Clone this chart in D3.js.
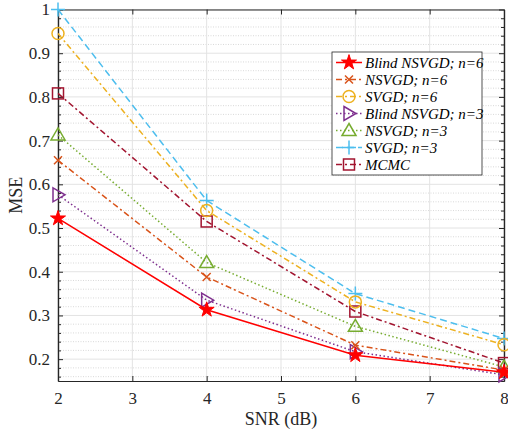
<!DOCTYPE html>
<html>
<head>
<meta charset="utf-8">
<title>MSE vs SNR</title>
<script src="https://cdn.jsdelivr.net/npm/d3@7/dist/d3.min.js"></script>
<style>
  body { margin:0; background:#fff; }
  svg text { font-family:"Liberation Serif","Times New Roman",Times,serif !important; }
</style>
</head>
<body>
<script>
// data
var snr = [2, 4, 6, 8];
var blindN6 = [0.522, 0.313, 0.209, 0.170];
var nsvgdN6 = [0.655, 0.388, 0.232, 0.175];
var svgdN6  = [0.945, 0.540, 0.331, 0.233];
var blindN3 = [0.576, 0.335, 0.217, 0.164];
var nsvgdN3 = [0.713, 0.421, 0.275, 0.182];
var svgdN3  = [1.000, 0.563, 0.350, 0.247];
var mcmc    = [0.808, 0.515, 0.309, 0.191];
var xTicks = [2, 3, 4, 5, 6, 7, 8];
var yTicks = [0.2, 0.3, 0.4, 0.5, 0.6, 0.7, 0.8, 0.9, 1];

var series = [
  {name:"Blind NSVGD; n=6", v:blindN6, color:"#ff0000", dash:null,        mark:"star"},
  {name:"NSVGD; n=6",       v:nsvgdN6, color:"#d95319", dash:"6,3,2,3",   mark:"x"},
  {name:"SVGD; n=6",        v:svgdN6,  color:"#edb120", dash:"6,3,2,3",   mark:"circle"},
  {name:"Blind NSVGD; n=3", v:blindN3, color:"#7e2f8e", dash:"1.5,2.5",   mark:"tri-right"},
  {name:"NSVGD; n=3",       v:nsvgdN3, color:"#77ac30", dash:"1.5,2.5",   mark:"tri-up"},
  {name:"SVGD; n=3",        v:svgdN3,  color:"#4dbeee", dash:"7,4",       mark:"plus"},
  {name:"MCMC",             v:mcmc,    color:"#a2142f", dash:"6,3,2,3",   mark:"square"}
];

var W = 508, H = 434;
var pL = 58, pR = 504, pT = 9.5, pB = 381;

var svg = d3.select("body").append("svg").attr("width", W).attr("height", H)
  .style("display", "block");

var x = d3.scaleLinear().domain([2, 8]).range([pL, pR]);
var y = d3.scaleLinear().domain([0.15, 1]).range([pB, pT]);

// grid
var minor = d3.range(0.16, 1.0001, 0.02).filter(function(d){ return Math.abs(d*10 - Math.round(d*10)) > 0.01; });
svg.append("g").selectAll("line").data(minor).enter().append("line")
  .attr("x1", pL).attr("x2", pR)
  .attr("y1", function(d){ return y(d); }).attr("y2", function(d){ return y(d); })
  .attr("stroke", "#cfcfcf").attr("stroke-width", 0.8).attr("stroke-dasharray", "1,1.5");
svg.append("g").selectAll("line").data(yTicks).enter().append("line")
  .attr("x1", pL).attr("x2", pR)
  .attr("y1", function(d){ return y(d); }).attr("y2", function(d){ return y(d); })
  .attr("stroke", "#e3e3e3").attr("stroke-width", 1);
svg.append("g").selectAll("line").data(xTicks).enter().append("line")
  .attr("y1", pT).attr("y2", pB)
  .attr("x1", function(d){ return x(d); }).attr("x2", function(d){ return x(d); })
  .attr("stroke", "#e3e3e3").attr("stroke-width", 1);

// axes (ticks inward, box)
var axCol = "#262626";
svg.append("g").attr("transform", "translate(0," + pB + ")")
  .call(d3.axisBottom(x).tickValues(xTicks).tickSizeInner(-5).tickSizeOuter(0).tickPadding(11)
    .tickFormat(d3.format("d")));
svg.append("g").attr("transform", "translate(0," + pT + ")")
  .call(d3.axisTop(x).tickValues(xTicks).tickSizeInner(-5).tickSizeOuter(0).tickFormat(""));
svg.append("g").attr("transform", "translate(" + pL + ",0)")
  .call(d3.axisLeft(y).tickValues(yTicks).tickSizeInner(-5).tickSizeOuter(0).tickPadding(8)
    .tickFormat(function(d){ return d === 1 ? "1" : d3.format(".1f")(d); }));
svg.append("g").attr("transform", "translate(" + pR + ",0)")
  .call(d3.axisRight(y).tickValues(yTicks).tickSizeInner(-5).tickSizeOuter(0).tickFormat(""));
svg.append("g").attr("transform", "translate(" + pL + ",0)")
  .call(d3.axisLeft(y).tickValues(minor).tickSizeInner(-3).tickSizeOuter(0).tickFormat(""));
svg.append("g").attr("transform", "translate(" + pR + ",0)")
  .call(d3.axisRight(y).tickValues(minor).tickSizeInner(-3).tickSizeOuter(0).tickFormat(""));
svg.selectAll(".domain").attr("stroke", axCol).attr("stroke-width", 1.2);
svg.selectAll(".tick line").attr("stroke", axCol);
svg.selectAll(".tick text").attr("fill", axCol).attr("font-size", 17);

// axis labels
svg.append("text").attr("x", x(5)).attr("y", 425).attr("text-anchor", "middle")
  .attr("fill", axCol).attr("font-size", 18).text("SNR (dB)");
svg.append("text").attr("transform", "translate(22," + y(0.575) + ") rotate(-90)")
  .attr("text-anchor", "middle").attr("fill", axCol).attr("font-size", 18).text("MSE");

// marker shapes
function drawMarker(g, type, cx, cy, color) {
  if (type === "star") {
    g.append("path").attr("d", d3.symbol().type(d3.symbolStar).size(70)())
      .attr("transform", "translate(" + cx + "," + cy + ")")
      .attr("fill", color).attr("stroke", color).attr("stroke-width", 1);
  } else if (type === "x") {
    g.append("path").attr("d", "M-4,-4L4,4M-4,4L4,-4")
      .attr("transform", "translate(" + cx + "," + cy + ")")
      .attr("stroke", color).attr("stroke-width", 1.5).attr("fill", "none");
  } else if (type === "circle") {
    g.append("circle").attr("cx", cx).attr("cy", cy).attr("r", 6)
      .attr("fill", "none").attr("stroke", color).attr("stroke-width", 1.5);
  } else if (type === "tri-right") {
    g.append("path").attr("d", "M-5,-7L7,0L-5,7Z")
      .attr("transform", "translate(" + cx + "," + cy + ")")
      .attr("fill", "none").attr("stroke", color).attr("stroke-width", 1.5);
  } else if (type === "tri-up") {
    g.append("path").attr("d", "M0,-7L7,5L-7,5Z")
      .attr("transform", "translate(" + cx + "," + cy + ")")
      .attr("fill", "none").attr("stroke", color).attr("stroke-width", 1.5);
  } else if (type === "plus") {
    g.append("path").attr("d", "M-7,0L7,0M0,-7L0,7")
      .attr("transform", "translate(" + cx + "," + cy + ")")
      .attr("stroke", color).attr("stroke-width", 1.5).attr("fill", "none");
  } else if (type === "square") {
    g.append("rect").attr("x", cx - 5.5).attr("y", cy - 5.5).attr("width", 11).attr("height", 11)
      .attr("fill", "none").attr("stroke", color).attr("stroke-width", 1.5);
  }
}

var line = d3.line().x(function(d, i){ return x(snr[i]); }).y(function(d){ return y(d); });

// draw in reverse so the first series is on top
series.slice().reverse().forEach(function(s) {
  var g = svg.append("g");
  g.append("path").datum(s.v).attr("d", line)
    .attr("fill", "none").attr("stroke", s.color).attr("stroke-width", 1.5)
    .attr("stroke-dasharray", s.dash);
  s.v.forEach(function(v, i) { drawMarker(g, s.mark, x(snr[i]), y(v), s.color); });
});

// legend
var lg = svg.append("g");
var lx = 332, ly = 52, lw = 150, lh = 123;
lg.append("rect").attr("x", lx).attr("y", ly).attr("width", lw).attr("height", lh)
  .attr("fill", "#fff").attr("stroke", axCol).attr("stroke-width", 0.8);
series.forEach(function(s, i) {
  var cy = 62.5 + i * 17;
  lg.append("line").attr("x1", lx + 4).attr("x2", lx + 30).attr("y1", cy).attr("y2", cy)
    .attr("stroke", s.color).attr("stroke-width", 1.5).attr("stroke-dasharray", s.dash);
  drawMarker(lg, s.mark, lx + 17, cy, s.color);
  lg.append("text").attr("x", lx + 33).attr("y", cy + 5)
    .attr("fill", "#000").attr("font-size", 15).attr("font-style", "italic").text(s.name);
});
</script>
</body>
</html>
